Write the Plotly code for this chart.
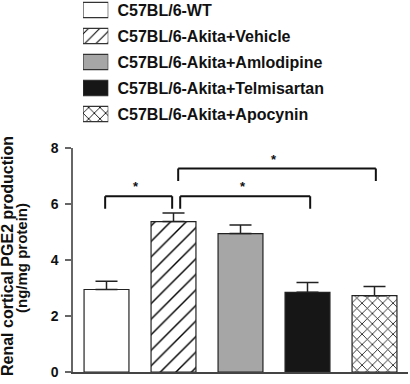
import plotly.graph_objects as go

# ---------------- data ----------------
groups = [
    "C57BL/6-WT",
    "C57BL/6-Akita+Vehicle",
    "C57BL/6-Akita+Amlodipine",
    "C57BL/6-Akita+Telmisartan",
    "C57BL/6-Akita+Apocynin",
]
pge2_mean = [2.95, 5.38, 4.95, 2.85, 2.73]
pge2_sem = [0.30, 0.31, 0.31, 0.35, 0.33]
y_ticks = [0, 2, 4, 6, 8]

fill_colors = ["#ffffff", "#ffffff", "#a6a6a6", "#161616", "#ffffff"]
pattern_shapes = ["", "/", "", "", "x"]
pattern_sizes_main = [8, 11, 8, 8, 7.3]
pattern_sizes_legend = [8, 8, 8, 8, 8]
pattern_solidity = [0.2, 0.13, 0.2, 0.2, 0.2]

# significance brackets (leg positions in category units, bracket height)
bracket_left = [-0.02, 1.10, 1.07]
bracket_right = [0.98, 3.04, 4.02]
bracket_top = [6.29, 6.29, 7.28]
bracket_drop = 0.45
bracket_label = ["*", "*", "*"]

y_title_1 = "Renal cortical PGE2 production"
y_title_2 = "(ng/mg protein)"

FONT = "Liberation Sans, Arial, sans-serif"

fig = go.Figure()

for i, g in enumerate(groups):
    pat = dict(shape=pattern_shapes[i], fgcolor="#000000", bgcolor=fill_colors[i],
               fgopacity=1, fillmode="replace",
               size=pattern_sizes_main[i], solidity=pattern_solidity[i])
    # main bar
    fig.add_trace(go.Bar(
        x=[g], y=[pge2_mean[i]], width=0.67,
        marker=dict(color=fill_colors[i], line=dict(color="#222222", width=1.2),
                    pattern=pat),
        error_y=dict(type="data", array=[pge2_sem[i]], arrayminus=[0],
                     symmetric=False, color="#222222", thickness=1.5, width=11),
        xaxis="x", yaxis="y", showlegend=False, hoverinfo="skip",
    ))
    # legend swatch
    pat2 = dict(pat, size=pattern_sizes_legend[i])
    fig.add_trace(go.Bar(
        y=[g], x=[1], orientation="h", width=0.58,
        marker=dict(color=fill_colors[i], line=dict(color="#333333", width=1.2),
                    pattern=pat2),
        xaxis="x2", yaxis="y2", showlegend=False, hoverinfo="skip",
    ))

shapes = []
annotations = []
for x0, x1, top, lab in zip(bracket_left, bracket_right, bracket_top, bracket_label):
    ln = dict(color="#111111", width=2)
    shapes.append(dict(type="line", xref="x", yref="y", x0=x0, x1=x0, y0=top - bracket_drop, y1=top, line=ln))
    shapes.append(dict(type="line", xref="x", yref="y", x0=x0, x1=x1, y0=top, y1=top, line=ln))
    shapes.append(dict(type="line", xref="x", yref="y", x0=x1, x1=x1, y0=top - bracket_drop, y1=top, line=ln))
    annotations.append(dict(xref="x", yref="y", x=(x0 + x1) / 2 - 0.04, y=top + 0.33, text=lab,
                            showarrow=False, yanchor="middle",
                            font=dict(family=FONT, size=13, color="#111111", weight="bold")))

# y-axis title (two lines)
annotations.append(dict(xref="paper", yref="paper", x=(7 - 73) / 335, y=(372 - 256) / 372,
                        text=y_title_1, textangle=-90, showarrow=False,
                        xanchor="center", yanchor="middle",
                        font=dict(family=FONT, size=16, color="#111111", weight="bold")))
annotations.append(dict(xref="paper", yref="paper", x=(21 - 73) / 335, y=(372 - 258) / 372,
                        text=y_title_2, textangle=-90, showarrow=False,
                        xanchor="center", yanchor="middle",
                        font=dict(family=FONT, size=15, color="#111111", weight="bold")))

fig.update_layout(
    width=410, height=384,
    margin=dict(l=73, r=2, t=0, b=12, pad=0, autoexpand=False),
    plot_bgcolor="white", paper_bgcolor="white",
    showlegend=False,
    barmode="overlay",
    shapes=shapes, annotations=annotations,
    xaxis=dict(domain=[0, 1], range=[-0.5, 4.5], type="category",
               categoryorder="array", categoryarray=groups, automargin=False,
               showticklabels=False, ticks="", showgrid=False, zeroline=False,
               showline=True, linecolor="#444444", linewidth=1.5, anchor="y"),
    yaxis=dict(domain=[0, 8 * 27.96 / 372], range=[0, 8], tickvals=y_ticks,
               ticks="outside", ticklen=6, tickwidth=1.5, tickcolor="#666666",
               ticklabelstandoff=4, automargin=False,
               showline=True, linecolor="#666666", linewidth=1.5,
               showgrid=False, zeroline=False, anchor="x",
               tickfont=dict(family=FONT, size=14, color="#111111", weight="bold")),
    xaxis2=dict(domain=[(83 - 73) / 335, (108.3 - 73) / 335], range=[0, 1],
                visible=False, anchor="y2", automargin=False),
    yaxis2=dict(domain=[0.66, 1], range=[4.48, -0.385], type="category",
                categoryorder="array", categoryarray=groups,
                anchor="x2", side="right", ticks="outside", ticklen=5,
                tickcolor="rgba(0,0,0,0)", showline=False, showgrid=False,
                zeroline=False, automargin=False,
                tickfont=dict(family=FONT, size=16, color="#111111", weight="bold")),
)

fig.write_html("out.html", config={"displayModeBar": False},
               post_script="document.body.style.margin='0';")
